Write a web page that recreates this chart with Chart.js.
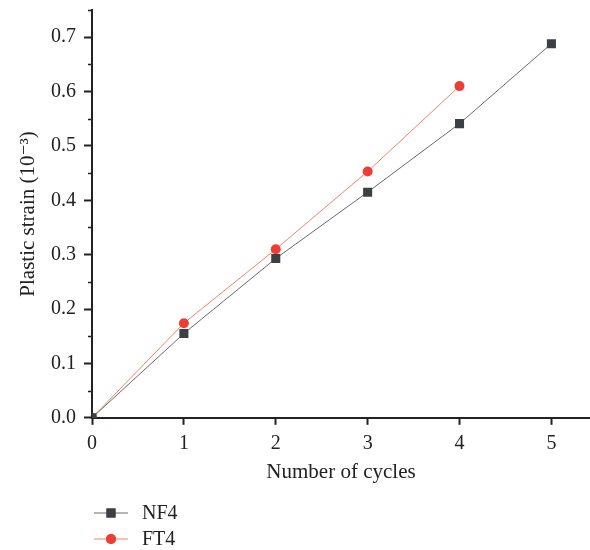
<!DOCTYPE html>
<html>
<head>
<meta charset="utf-8">
<script src="https://cdn.jsdelivr.net/npm/chart.js@4/dist/chart.umd.min.js"></script>
<style>
  html, body { margin: 0; padding: 0; background: #fff; }
  #wrap { width: 590px; height: 550px; }
</style>
</head>
<body>
<div id="wrap"><canvas id="strainChart" width="590" height="550"></canvas></div>
<script>
// data
const cycles = [0, 1, 2, 3, 4, 5];
const nf4 = [0, 0.155, 0.293, 0.415, 0.541, 0.688];
const ft4 = [0, 0.174, 0.310, 0.453, 0.610];
const seriesNames = ["NF4", "FT4"];
const yTickLabels = ["0.0", "0.1", "0.2", "0.3", "0.4", "0.5", "0.6", "0.7"];

const serif = "'Liberation Serif', 'DejaVu Serif', serif";

// small minor ticks on the y axis (0.05, 0.15, ...)
const minorTicks = {
  id: "minorTicks",
  afterDraw(chart) {
    const ctx = chart.ctx;
    const y = chart.scales.y;
    ctx.save();
    ctx.strokeStyle = "#222";
    ctx.lineWidth = 1.5;
    for (let v = 0.05; v <= y.max + 1e-9; v += 0.1) {
      const py = Math.round(y.getPixelForValue(v)) + 0.5;
      ctx.beginPath();
      ctx.moveTo(y.right - 4, py);
      ctx.lineTo(y.right, py);
      ctx.stroke();
    }
    ctx.restore();
  },
};

// legend below the plot: line sample with marker, then name
const bottomLegend = {
  id: "bottomLegend",
  afterDraw(chart) {
    const ctx = chart.ctx;
    const area = chart.chartArea;
    ctx.save();
    chart.data.datasets.forEach((ds, i) => {
      const cy = 513 + i * 26;
      const x0 = area.left + 2;
      ctx.strokeStyle = ds.borderColor;
      ctx.lineWidth = 1;
      ctx.beginPath();
      ctx.moveTo(x0, cy);
      ctx.lineTo(x0 + 34, cy);
      ctx.stroke();
      ctx.fillStyle = ds.pointBackgroundColor;
      Chart.helpers.drawPoint(ctx, {
        pointStyle: ds.pointStyle,
        radius: ds.pointRadius,
        rotation: 0,
        borderWidth: 0,
      }, x0 + 17, cy);
      ctx.fill();
      ctx.fillStyle = "#222";
      ctx.font = "20px " + serif;
      ctx.textBaseline = "middle";
      ctx.fillText(ds.label, x0 + 48, cy + 1);
    });
    ctx.restore();
  },
};

const ctx = document.getElementById("strainChart").getContext("2d");
new Chart(ctx, {
  type: "line",
  data: {
    datasets: [
      {
        label: seriesNames[0],
        data: cycles.map((c, i) => ({ x: c, y: nf4[i] })),
        borderColor: "#6b6b6b",
        borderWidth: 1,
        pointStyle: "rect",
        pointRadius: 6.4,
        pointBackgroundColor: "#3c3f44",
        pointBorderWidth: 0,
        tension: 0,
      },
      {
        label: seriesNames[1],
        data: ft4.map((v, i) => ({ x: cycles[i], y: v })),
        borderColor: "#f3806c",
        borderWidth: 1,
        pointStyle: "circle",
        pointRadius: 5,
        pointBackgroundColor: "#ee3d35",
        pointBorderWidth: 0,
        tension: 0,
      },
    ],
  },
  options: {
    responsive: false,
    animation: false,
    layout: { autoPadding: false, padding: { top: 10, right: 0, bottom: 65, left: 0 } },
    plugins: {
      legend: { display: false },
      tooltip: { enabled: false },
    },
    scales: {
      x: {
        type: "linear",
        min: 0,
        max: 5.42,
        border: { display: true, color: "#222", width: 2 },
        grid: { display: true, drawOnChartArea: false, drawTicks: true, tickLength: 7, tickColor: "#222", tickWidth: 2 },
        ticks: {
          stepSize: 1,
          includeBounds: false,
          color: "#222",
          padding: 7,
          font: { family: serif, size: 20 },
          maxRotation: 0,
        },
        title: {
          display: true,
          text: "Number of cycles",
          color: "#222",
          font: { family: serif, size: 21 },
          padding: { top: -3, bottom: 0 },
        },
        afterFit: (scale) => { scale.paddingLeft = 0; scale.paddingRight = 0; },
      },
      y: {
        type: "linear",
        min: 0,
        max: 0.75,
        border: { display: true, color: "#222", width: 2 },
        grid: { display: true, drawOnChartArea: false, drawTicks: true, tickLength: 8, tickColor: "#222", tickWidth: 2 },
        ticks: {
          stepSize: 0.1,
          includeBounds: false,
          color: "#222",
          padding: 8,
          font: { family: serif, size: 20 },
          callback: (v, i) => yTickLabels[i],
        },
        title: {
          display: true,
          text: "Plastic strain (10\u207B\u00B3)",
          color: "#222",
          font: { family: serif, size: 21 },
          padding: { top: 16, bottom: 0 },
        },
        afterFit: (scale) => {
          scale.width = 92;
          scale.paddingTop = 0;
          scale.paddingBottom = 0;
        },
      },
    },
  },
  plugins: [minorTicks, bottomLegend],
});
</script>
</body>
</html>
